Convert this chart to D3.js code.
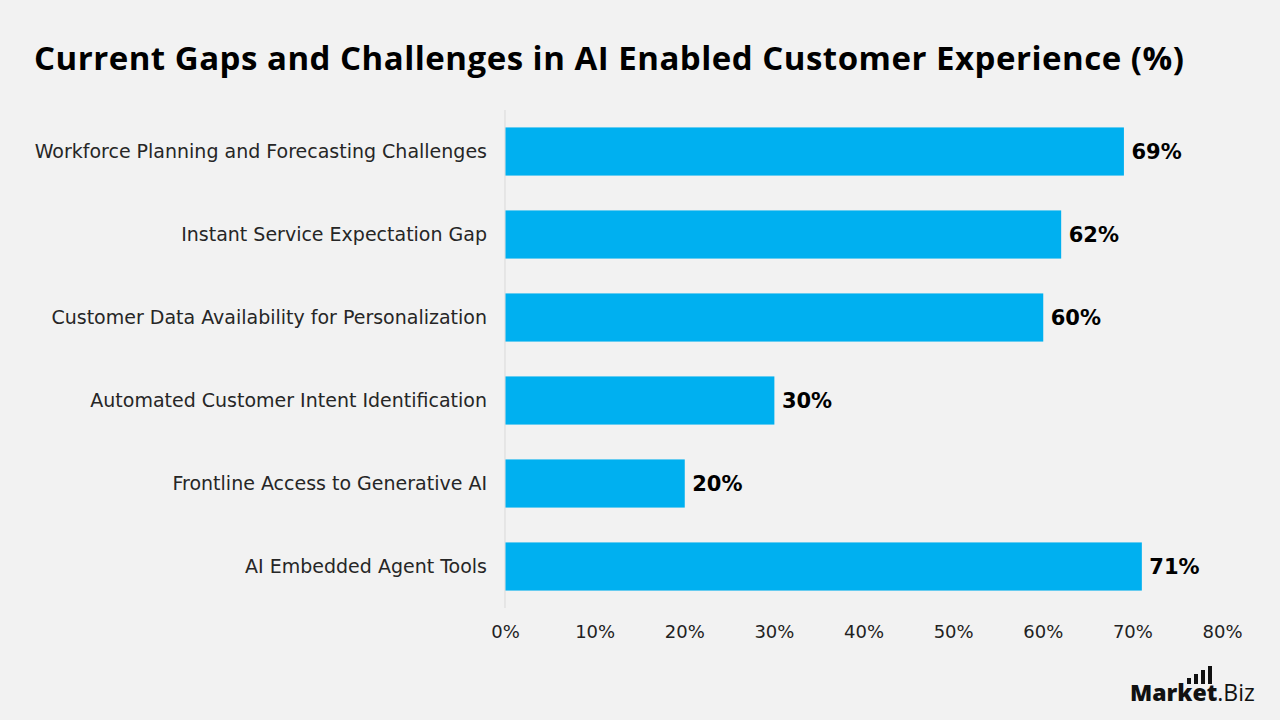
<!DOCTYPE html>
<html>
<head>
<meta charset="utf-8">
<script src="https://cdn.jsdelivr.net/npm/d3@7"></script>
<style>
  body { margin: 0; background: #f2f2f2; }
</style>
</head>
<body>
<div id="chart"></div>
<script>
// chart data
let categories = [
    'Workforce Planning and Forecasting Challenges',
    'Instant Service Expectation Gap',
    'Customer Data Availability for Personalization',
    'Automated Customer Intent Identification',
    'Frontline Access to Generative AI',
    'AI Embedded Agent Tools'
];
let values = [69, 62, 60, 30, 20, 71];
let tickValues = [0, 10, 20, 30, 40, 50, 60, 70, 80];

let W = 1280, H = 720;
let margin = { left: 505, right: 58, top: 110, bottom: 112 };
let width = W - margin.left - margin.right;
let height = H - margin.top - margin.bottom;

let svg = d3.select('#chart').append('svg')
    .attr('width', W)
    .attr('height', H)
    .style('font-family', '"Open Sans", sans-serif');

svg.append('rect')
    .attr('width', W)
    .attr('height', H)
    .attr('fill', '#f2f2f2');

// title
svg.append('text')
    .attr('x', 34)
    .attr('y', 70)
    .attr('font-size', '33px')
    .attr('font-weight', 700)
    .attr('letter-spacing', '0.5px')
    .attr('fill', '#000')
    .text('Current Gaps and Challenges in AI Enabled Customer Experience (%)');

let g = svg.append('g')
    .attr('transform', 'translate(' + margin.left + ',' + margin.top + ')');

let x = d3.scaleLinear()
    .domain([0, 80])
    .range([0, width]);

let y = d3.scaleBand()
    .domain(categories)
    .range([0, height])
    .paddingInner(0.42)
    .paddingOuter(0.21);

// x axis (labels only)
let xAxis = d3.axisBottom(x)
    .tickValues(tickValues)
    .tickSize(0)
    .tickPadding(0)
    .tickFormat(function (d) { return d + '%'; });
let xg = g.append('g')
    .attr('transform', 'translate(0,' + (height + 17) + ')')
    .call(xAxis);
xg.select('.domain').remove();
xg.selectAll('text')
    .style('font-family', '"DejaVu Sans", sans-serif')
    .style('font-size', '18px')
    .attr('fill', '#222');

// y axis (labels only)
let yAxis = d3.axisLeft(y)
    .tickSize(0)
    .tickPadding(18);
let yg = g.append('g').call(yAxis);
yg.select('.domain').remove();
yg.selectAll('text')
    .style('font-family', '"DejaVu Sans", sans-serif')
    .style('font-size', '19px')
    .attr('fill', '#262626');

// vertical baseline
g.append('line')
    .attr('x1', x(0)).attr('x2', x(0))
    .attr('y1', 0).attr('y2', height)
    .attr('stroke', '#d9d9d9')
    .attr('stroke-width', 1);

g.selectAll('.bar')
    .data(values)
    .enter()
    .append('rect')
    .attr('class', 'bar')
    .attr('x', x(0) + 0.5)
    .attr('y', function (d, i) { return y(categories[i]); })
    .attr('width', function (d) { return x(d) - x(0); })
    .attr('height', y.bandwidth())
    .attr('fill', '#00b0f0');

g.selectAll('.val')
    .data(values)
    .enter()
    .append('text')
    .attr('class', 'val')
    .attr('x', function (d) { return x(d) + 8; })
    .attr('y', function (d, i) { return y(categories[i]) + y.bandwidth() / 2; })
    .attr('dy', '0.36em')
    .style('font-family', '"DejaVu Sans", sans-serif')
    .attr('font-size', '21px')
    .attr('font-weight', 700)
    .attr('fill', '#000')
    .text(function (d) { return d + '%'; });

// logo
let logo = svg.append('g').attr('transform', 'translate(1130,701)');
let lt = logo.append('text')
    .attr('font-size', '23px')
    .attr('fill', '#111');
lt.append('tspan').attr('font-weight', 800).text('Market');
lt.append('tspan').attr('font-weight', 400).text('.Biz');
let logoBars = [6, 10, 14, 18];
logo.selectAll('.lb')
    .data(logoBars)
    .enter()
    .append('rect')
    .attr('x', function (d, i) { return 57 + i * 7; })
    .attr('y', function (d) { return -17 - d; })
    .attr('width', 4)
    .attr('height', function (d) { return d; })
    .attr('fill', '#111');
</script>
</body>
</html>
